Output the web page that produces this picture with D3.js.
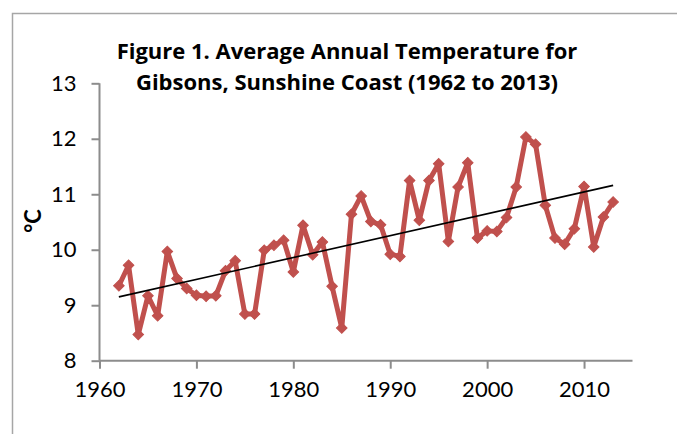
<!DOCTYPE html>
<html>
<head>
<meta charset="utf-8">
<script src="https://cdn.jsdelivr.net/npm/d3@7"></script>
<style>
  html, body { margin: 0; padding: 0; background: #fff; overflow: hidden; }
  svg { display: block; }
</style>
</head>
<body>
<svg id="chart" width="677" height="434"></svg>
<script>
// ---- data ----
const years = [1962,1963,1964,1965,1966,1967,1968,1969,1970,1971,1972,1973,1974,1975,1976,1977,1978,1979,
  1980,1981,1982,1983,1984,1985,1986,1987,1988,1989,1990,1991,1992,1993,1994,1995,1996,1997,1998,1999,
  2000,2001,2002,2003,2004,2005,2006,2007,2008,2009,2010,2011,2012,2013];
const temps = [9.35,9.72,8.47,9.17,8.81,9.97,9.48,9.30,9.18,9.16,9.17,9.62,9.80,8.84,8.84,9.99,10.08,10.17,
  9.60,10.44,9.91,10.14,9.34,8.59,10.64,10.97,10.51,10.45,9.92,9.88,11.25,10.53,11.25,11.55,10.15,11.13,11.57,10.21,
  10.34,10.33,10.58,11.13,12.03,11.90,10.80,10.21,10.10,10.38,11.14,10.05,10.59,10.86];
const trendYears = [1962, 2013];
const trendValues = [9.15, 11.16];
const xTicks = [1960,1970,1980,1990,2000,2010];
const yTicks = [8,9,10,11,12,13];
const titleLines = ["Figure 1. Average Annual Temperature for", "Gibsons, Sunshine Coast (1962 to 2013)"];
const yLabel = "°C";

// ---- layout ----
const svg = d3.select("#chart");
const mLeft = 99.5, mRight = 632.5, mTop = 83.3, mBottom = 360.7;
const x = d3.scaleLinear().domain([1960, 2015]).range([mLeft, mRight]);
const y = d3.scaleLinear().domain([8, 13]).range([mBottom, mTop]);
const axisColor = "#8c8c8c";
const font = "Lato, 'Open Sans', sans-serif";
const titleFont = "'Open Sans', Lato, sans-serif";

// frame
svg.append("rect").attr("x", 12.5).attr("y", 13.5).attr("width", 700).attr("height", 500)
  .attr("fill", "none").attr("stroke", "#a6a6a6").attr("stroke-width", 1.5);

// title
svg.append("g").selectAll("text").data(titleLines).join("text")
  .attr("x", 347).attr("y", (d, i) => 59 + i * 31)
  .attr("text-anchor", "middle")
  .style("font-family", titleFont).style("font-weight", "bold").style("font-size", "22px")
  .attr("fill", "#000").text(d => d);

// y axis
const yAxis = svg.append("g").attr("transform", `translate(${mLeft},0)`)
  .call(d3.axisLeft(y).tickValues(yTicks).tickSize(8).tickPadding(15).tickFormat(d3.format("d")));
// x axis
const xAxis = svg.append("g").attr("transform", `translate(0,${mBottom})`)
  .call(d3.axisBottom(x).tickValues(xTicks).tickSize(8).tickPadding(13).tickFormat(d3.format("d")));

[yAxis, xAxis].forEach(g => {
  g.select(".domain").attr("stroke", axisColor).attr("stroke-width", 2);
  g.selectAll(".tick line").attr("stroke", axisColor).attr("stroke-width", 2);
  g.selectAll(".tick text").attr("fill", "#000").style("font-family", font).style("font-size", "22px");
});
yAxis.select(".domain").attr("d", `M0,${mTop}V${mBottom}`);
xAxis.select(".domain").attr("d", `M${mLeft},0H${mRight}`);
xAxis.selectAll(".tick text").attr("dy", "0.71em");

// y label
svg.append("text").attr("transform", "translate(41,221) rotate(-90)")
  .attr("text-anchor", "middle")
  .style("font-family", font).style("font-weight", "bold").style("font-size", "22px")
  .text(yLabel);

// series line
const pts = years.map((yr, i) => ({yr, v: temps[i]}));
const red = "#C0504D";
svg.append("path").datum(pts)
  .attr("fill", "none").attr("stroke", red).attr("stroke-width", 5).attr("stroke-linejoin", "round")
  .attr("d", d3.line().x(d => x(d.yr)).y(d => y(d.v)));

// markers
const sym = d3.symbol().type(d3.symbolSquare).size(56);
svg.append("g").selectAll("path").data(pts).join("path")
  .attr("d", sym)
  .attr("transform", d => `translate(${x(d.yr)},${y(d.v)}) rotate(45)`)
  .attr("fill", red).attr("stroke", red).attr("stroke-width", 1);

// trend line
svg.append("path").datum(trendYears.map((yr, i) => ({yr, v: trendValues[i]})))
  .attr("fill", "none").attr("stroke", "#000").attr("stroke-width", 1.6)
  .attr("d", d3.line().x(d => x(d.yr)).y(d => y(d.v)));
</script>
</body>
</html>
